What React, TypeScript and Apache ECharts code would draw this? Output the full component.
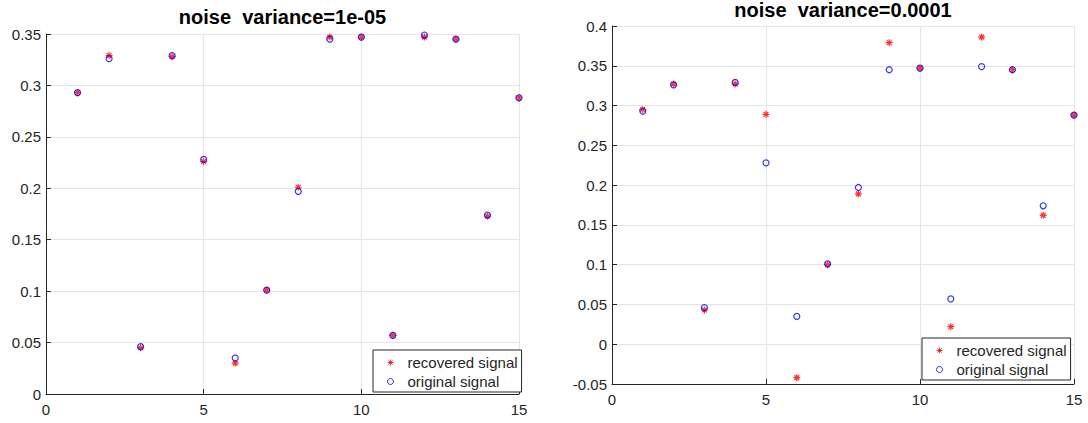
import React, { useEffect, useRef } from "react";
import * as echarts from "echarts";

// ---- data ----
const xValues = [1, 2, 3, 4, 5, 6, 7, 8, 9, 10, 11, 12, 13, 14, 15];
const originalSignal = [0.293, 0.326, 0.046, 0.329, 0.228, 0.035, 0.101, 0.197, 0.345, 0.347, 0.057, 0.349, 0.345, 0.174, 0.288];
const recoveredVar1e5 = [0.293, 0.329, 0.045, 0.328, 0.226, 0.03, 0.101, 0.201, 0.347, 0.347, 0.057, 0.347, 0.345, 0.173, 0.288];
const recoveredVar1e4 = [0.295, 0.327, 0.043, 0.327, 0.289, -0.042, 0.1, 0.189, 0.379, 0.347, 0.022, 0.386, 0.345, 0.162, 0.288];
const titles = ["noise  variance=1e-05", "noise  variance=0.0001"];
const seriesNames = ["recovered signal", "original signal"];
const xTicks = { min: 0, max: 15, interval: 5 };
const yTicksLeft = { min: 0, max: 0.35, interval: 0.05 };
const yTicksRight = { min: -0.05, max: 0.4, interval: 0.05 };

const FONT = "'Liberation Sans', Arial, Helvetica, sans-serif";
const AXIS_COLOR = "#262626";
const GRID_COLOR = "#e5e5e5";
const ASTERISK = "path://M5,0L5,10M0,5L10,5M1.6,1.6L8.4,8.4M1.6,8.4L8.4,1.6";

const fmt = (v: number) => String(parseFloat(v.toFixed(3)));

function xAxis(gridIndex: number) {
  return {
    type: "value",
    gridIndex,
    min: xTicks.min,
    max: xTicks.max,
    interval: xTicks.interval,
    axisLine: { show: true, onZero: false, lineStyle: { color: AXIS_COLOR, width: 1 } },
    axisTick: { show: true, inside: true, length: 5, lineStyle: { color: AXIS_COLOR } },
    axisLabel: { margin: 8, fontSize: 15, color: AXIS_COLOR, fontFamily: FONT, formatter: fmt },
    splitLine: { show: true, lineStyle: { color: GRID_COLOR, width: 1 } },
  };
}

function yAxis(gridIndex: number, t: { min: number; max: number; interval: number }) {
  return {
    type: "value",
    gridIndex,
    min: t.min,
    max: t.max,
    interval: t.interval,
    axisLine: { show: true, onZero: false, lineStyle: { color: AXIS_COLOR, width: 1 } },
    axisTick: { show: true, inside: true, length: 5, lineStyle: { color: AXIS_COLOR } },
    axisLabel: { margin: 5, fontSize: 15, color: AXIS_COLOR, fontFamily: FONT, formatter: fmt },
    splitLine: { show: true, lineStyle: { color: GRID_COLOR, width: 1 } },
  };
}

function pairs(ys: number[]) {
  return xValues.map((x, i) => [x, ys[i]]);
}

function seriesFor(idx: number, recovered: number[]) {
  return [
    {
      name: seriesNames[0],
      type: "scatter",
      xAxisIndex: idx,
      yAxisIndex: idx,
      symbol: ASTERISK,
      symbolSize: 7,
      itemStyle: { color: "#ff0000", borderColor: "#ff0000", borderWidth: 1.2 },
      data: pairs(recovered),
    },
    {
      name: seriesNames[1],
      type: "scatter",
      xAxisIndex: idx,
      yAxisIndex: idx,
      symbol: "circle",
      symbolSize: 6,
      itemStyle: { color: "rgba(0,0,0,0)", borderColor: "#0000ff", borderWidth: 1.2 },
      data: pairs(originalSignal),
    },
  ];
}

function legendFor(left: number, top: number) {
  return {
    left,
    top,
    orient: "vertical",
    selectedMode: false,
    itemWidth: 6,
    itemHeight: 6,
    itemGap: 4,
    padding: [5, 4, 3, 14],
    backgroundColor: "#ffffff",
    borderColor: AXIS_COLOR,
    borderWidth: 1,
    borderRadius: 0,
    itemStyle: { borderWidth: 1 },
    textStyle: { fontSize: 15, lineHeight: 15, color: AXIS_COLOR, fontFamily: FONT, padding: [0, 0, 0, 9] },
    data: seriesNames,
  };
}

export default function App() {
  const ref = useRef<HTMLDivElement>(null);
  useEffect(() => {
    if (!ref.current) return;
    const chart = echarts.init(ref.current, null, { renderer: "svg" });
    const gridL = { left: 46, top: 34, width: 473, height: 360 };
    const gridR = { left: 612, top: 26, width: 462, height: 358 };
    chart.setOption({
      animation: false,
      backgroundColor: "#ffffff",
      grid: [
        { ...gridL, containLabel: false },
        { ...gridR, containLabel: false },
      ],
      xAxis: [xAxis(0), xAxis(1)],
      yAxis: [yAxis(0, yTicksLeft), yAxis(1, yTicksRight)],
      legend: [legendFor(373, 350), legendFor(922, 338)],
      graphic: [
        {
          type: "text",
          x: gridL.left + gridL.width / 2,
          y: 17,
          style: { text: titles[0], font: `bold 20px ${FONT}`, fill: "#000", textAlign: "center", textVerticalAlign: "middle" },
        },
        {
          type: "text",
          x: gridR.left + gridR.width / 2,
          y: 10,
          style: { text: titles[1], font: `bold 20px ${FONT}`, fill: "#000", textAlign: "center", textVerticalAlign: "middle" },
        },
      ],
      series: [...seriesFor(0, recoveredVar1e5), ...seriesFor(1, recoveredVar1e4)],
    });
    return () => chart.dispose();
  }, []);
  return <div ref={ref} style={{ position: "absolute", left: 0, top: 0, width: 1088, height: 423 }} />;
}
